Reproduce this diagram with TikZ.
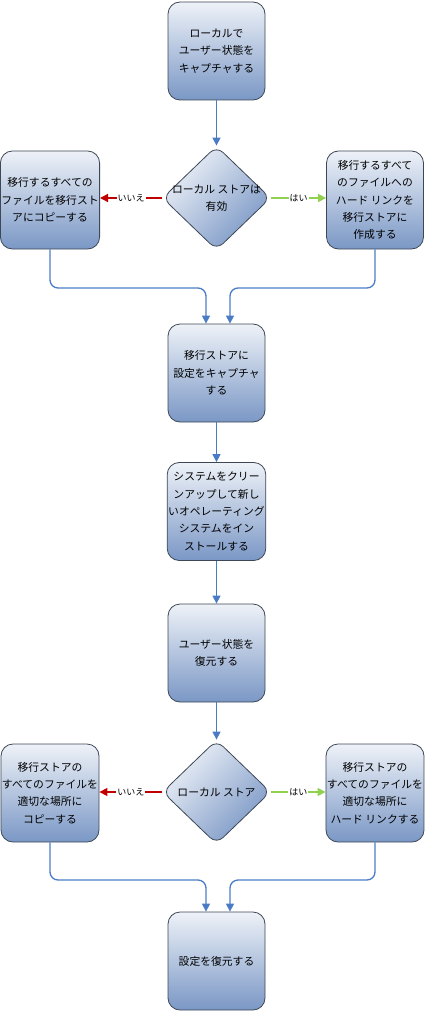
\documentclass[tikz,border=0pt]{standalone}
\usepackage{fontspec}
\newfontfamily\jpfont{Noto Sans CJK JP}
\usetikzlibrary{arrows.meta,positioning,shapes.geometric}
\definecolor{boxtop}{HTML}{EEF2F8}
\definecolor{boxbot}{HTML}{7A97C5}
\definecolor{edgegray}{HTML}{3E4756}
\definecolor{flowblue}{HTML}{4A7CC6}
\definecolor{nored}{HTML}{C00000}
\definecolor{yesgreen}{HTML}{92D050}
\tikzset{
	box/.style={draw=edgegray,line width=0.8pt,rectangle,rounded corners=12pt,top color=boxtop,bottom color=boxbot,minimum width=97pt,minimum height=98pt,inner sep=1pt,align=center,font=\jpfont\fontsize{10.8}{17.3}\selectfont},
	test/.style={draw=edgegray,line width=0.8pt,diamond,rounded corners=9pt,top color=boxtop,bottom color=boxbot,shading angle=45,minimum width=108pt,minimum height=104pt,inner sep=-18pt,align=center,font=\jpfont\fontsize{10.8}{17.3}\selectfont},
	flow/.style={draw=flowblue,line width=1.3pt,-{Triangle[length=8pt,width=8pt]},rounded corners=8pt},
	nopath/.style={draw=nored,line width=1.3pt,-{Triangle[length=8pt,width=8pt]}},
	yespath/.style={draw=yesgreen,line width=1.3pt,-{Triangle[length=8pt,width=8pt]}},
	lbl/.style={fill=white,inner sep=1pt,font=\jpfont\fontsize{9}{10}\selectfont}
}
\begin{document}
\begin{tikzpicture}[x=1pt,y=-1pt]
			\useasboundingbox (0,0) rectangle (425,1011);
			\node[box] (cap) at (216.5,51) {ローカルで\\ユーザー状態を\\キャプチャする};
			\node[test] (dec1) at (216.5,198) {ローカル ストアは\\有効};
			\node[box] (left1) at (50,200) {移行するすべての\\ファイルを移行スト\\アにコピーする};
			\node[box] (right1) at (375,200) {移行するすべて\\のファイルへの\\ハード リンクを\\移行ストアに\\作成する};
			\node[box] (save) at (216.5,373) {移行ストアに\\設定をキャプチャ\\する};
			\node[box] (clean) at (216.5,511.5) {システムをクリー\\ンアップして新し\\いオペレーティング\\システムをイン\\ストールする};
			\node[box] (restu) at (216.5,653) {ユーザー状態を\\復元する};
			\node[test] (dec2) at (216.5,792) {ローカル ストア};
			\node[box] (left2) at (50,793) {移行ストアの\\すべてのファイルを\\適切な場所に\\コピーする};
			\node[box] (right2) at (375,793) {移行ストアの\\すべてのファイルを\\適切な場所に\\ハード リンクする};
			\node[box] (restore) at (216.5,961) {設定を復元する};
			\node[coordinate] (jl1) at (206,288) {};
			\node[coordinate] (jr1) at (230,288) {};
			\node[coordinate] (jl2) at (206,880) {};
			\node[coordinate] (jr2) at (230,880) {};

			\draw[flow] (cap) -- (dec1);
			\draw[nopath] (dec1.west) -- node[lbl] {いいえ} (dec1.west -| left1.east);
			\draw[yespath] (dec1.east) -- node[lbl] {はい} (dec1.east -| right1.west);
			\draw[flow] (left1.south) |- (jl1) -- (jl1 |- save.north);
			\draw[flow] (right1.south) |- (jr1) -- (jr1 |- save.north);
			\draw[flow] (save) -- (clean);
			\draw[flow] (clean) -- (restu);
			\draw[flow] (restu) -- (dec2);
			\draw[nopath] (dec2.west) -- node[lbl] {いいえ} (dec2.west -| left2.east);
			\draw[yespath] (dec2.east) -- node[lbl] {はい} (dec2.east -| right2.west);
			\draw[flow] (left2.south) |- (jl2) -- (jl2 |- restore.north);
			\draw[flow] (right2.south) |- (jr2) -- (jr2 |- restore.north);
		\end{tikzpicture}
\end{document}
